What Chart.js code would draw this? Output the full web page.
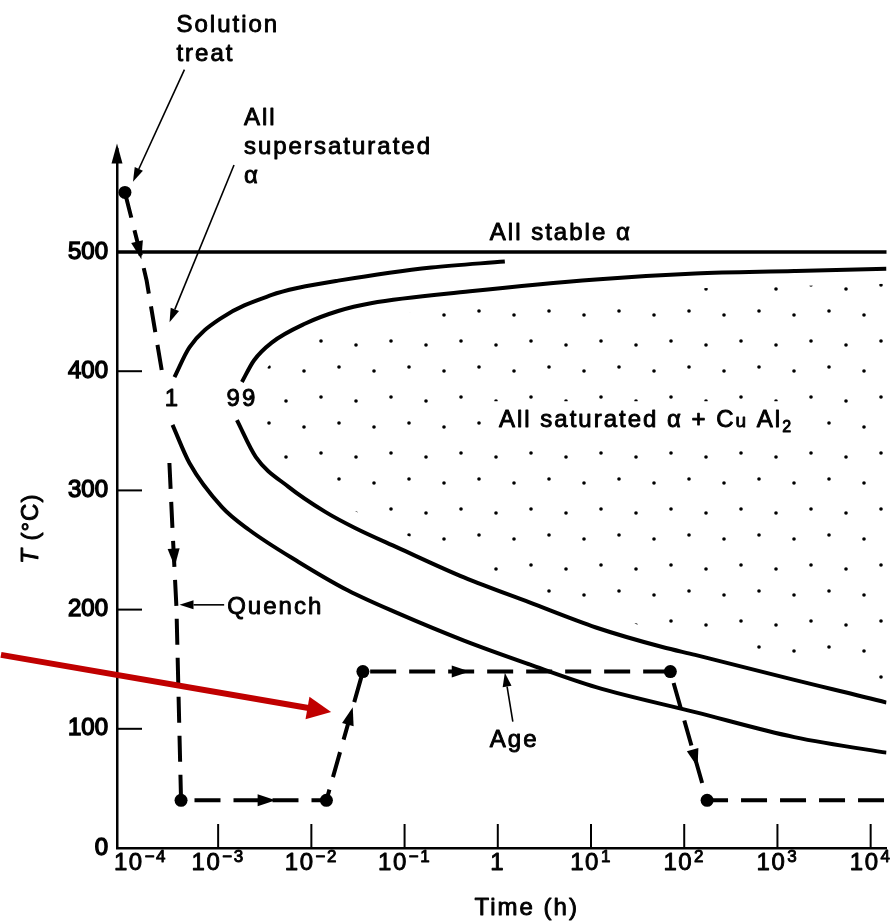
<!DOCTYPE html>
<html>
<head>
<meta charset="utf-8">
<script src="https://cdn.jsdelivr.net/npm/chart.js@4.4.1/dist/chart.umd.min.js"></script>
<style>
  html, body { margin: 0; padding: 0; background: #fff; }
  #wrap { width: 893px; height: 922px; }
</style>
</head>
<body>
<div id="wrap"><canvas id="ttt"></canvas></div>
<script>
// Al-Cu age hardening: time (h, log axis) against temperature (deg C)
const xTicks = [1e-4, 1e-3, 1e-2, 1e-1, 1, 1e1, 1e2, 1e3, 1e4];
const xTickExp = ['\u22124', '\u22123', '\u22122', '\u22121', '', '1', '2', '3', '4'];
const yTicks = [0, 100, 200, 300, 400, 500];

const stableTime = [1e-5, 1e5];
const stableTemp = [500, 500];

// 1 % transformed curve (two branches, gap at the nose for the label)
const c1UpperTime = [3.40e-4, 4.92e-4, 1.10e-3, 3.76e-3, 7.28e-3, 1.94e-2, 0.194, 1.19];
const c1UpperTemp = [395, 420, 445, 464, 470, 476, 487, 492];
const c1LowerTime = [3.24e-4, 4.92e-4, 1.10e-3, 2.14e-3, 7.28e-3, 2.48e-2, 8.43e-2, 0.434, 2.19, 11.3, 131, 1517, 14791, 40000];
const c1LowerTemp = [355, 323, 286, 267, 240, 216, 197, 174, 154, 135, 114, 93, 80, 75];

// 99 % transformed curve
const c99UpperTime = [1.80e-3, 2.42e-3, 3.76e-3, 8.63e-3, 1.94e-2, 4.35e-2, 0.504, 11.3, 131, 1517, 14791, 40000];
const c99UpperTemp = [391, 409, 424, 440, 450.5, 457, 467, 477, 482, 484, 486, 487];
const c99LowerTime = [1.59e-3, 2.54e-3, 5.69e-3, 1.41e-2, 2.94e-2, 8.43e-2, 0.434, 2.19, 11.3, 58.3, 131, 1517, 14791, 40000];
const c99LowerTemp = [359, 328, 303, 282, 268.5, 252, 227, 206, 185, 168.6, 162, 141, 122, 113];

// heat treatment path: solution treat -> quench -> hold -> age -> cool
// (null leaves the break where the "1" label sits)
const pathTime = [1.0e-4, 1.45e-4, 1.71e-4, 2.48e-4, 2.7e-4, 3.0e-4, 3.24e-4, 3.57e-4, 4.0e-4, 1.45e-2, 3.57e-2, 71, 176, 1e5];
const pathTemp = [550, 500, 476, 401, null, 323, 267, 202, 40, 40, 148, 148, 40, 40];
const cornerTime = [1.0e-4, 4.0e-4, 1.45e-2, 3.57e-2, 71, 176];
const cornerTemp = [550, 40, 40, 148, 148, 40];

// notes, placed in axis units [time, temp]
const pathArrows = [
  [[1.0e-4, 550], [1.5e-4, 494]],
  [[3.24e-4, 267], [3.42e-4, 236]],
  [[1.0e-3, 40], [4.14e-3, 40]],
  [[1.45e-2, 40], [2.78e-2, 118]],
  [[0.1, 148], [0.5, 148]],
  [[71, 148], [139, 68]]
];
const pointers = [
  [[4.35e-4, 653], [1.22e-4, 559]],
  [[1.48e-3, 573], [3.01e-4, 441]],
  [[1.16e-3, 204], [3.85e-4, 204]],
  [[1.45, 106], [1.19, 147]]
];
const redPointer = [[4.68e-6, 162], [1.63e-2, 114]];
const notes = [
  { at: [3.57e-4, 684.6], lines: ['Solution', 'treat'] },
  { at: [1.89e-3, 606.5], lines: ['All', 'supersaturated', '\u03b1'] },
  { at: [0.822, 510], lines: ['All stable \u03b1'] },
  { at: [1.25e-3, 196], lines: ['Quench'] },
  { at: [0.822, 84.7], lines: ['Age'] }
];
const curveTags = [
  { at: [3.24e-4, 376], text: '1' },
  { at: [1.80e-3, 376], text: '99' }
];
const regionNote = { at: [1.03, 353], parts: [['All saturated \u03b1 + C', 24, 0], ['u', 19, 0], [' Al', 24, 0], ['2', 16, 5]] };
const xTitle = { at: 2.04, text: 'Time (h)' };

const ink = '#000';
const FONT = '"Liberation Sans", Arial, Helvetica, sans-serif';

const pts = (ts, cs) => ts.map((t, i) => ({ x: t, y: cs[i] }));

function dotPattern() {
  const c = document.createElement('canvas');
  c.width = 70; c.height = 56;
  const g = c.getContext('2d');
  g.fillStyle = ink;
  [[6, 9], [41, 5], [24, 35], [59, 31]].forEach(p => {
    g.beginPath(); g.arc(p[0], p[1], 1.8, 0, Math.PI * 2); g.fill();
  });
  return g.createPattern(c, 'repeat');
}

function head(ctx, x0, y0, x1, y1, len, half) {
  const a = Math.atan2(y1 - y0, x1 - x0);
  const bx = x1 - len * Math.cos(a), by = y1 - len * Math.sin(a);
  ctx.beginPath();
  ctx.moveTo(x1, y1);
  ctx.lineTo(bx + half * Math.sin(a), by - half * Math.cos(a));
  ctx.lineTo(bx - half * Math.sin(a), by + half * Math.cos(a));
  ctx.closePath();
  ctx.fill();
  return [bx, by];
}

// filled text with a hairline outline, the scan is a bit heavier than the regular face
function ink_text(ctx, s, x, y) {
  ctx.fillText(s, x, y);
  ctx.strokeText(s, x, y);
}

const annotate = {
  id: 'annotate',
  afterDatasetsDraw(chart) {
    const { ctx, chartArea: area, scales: { x, y } } = chart;
    const P = p => [x.getPixelForValue(p[0]), y.getPixelForValue(p[1])];
    ctx.save();
    ctx.fillStyle = ink;
    ctx.strokeStyle = ink;

    // inward tick marks
    ctx.lineWidth = 2;
    yTicks.forEach(v => {
      if (v === 0) return;
      const yy = y.getPixelForValue(v);
      ctx.beginPath(); ctx.moveTo(area.left, yy); ctx.lineTo(area.left + 25, yy); ctx.stroke();
    });
    xTicks.forEach(v => {
      const xx = x.getPixelForValue(v);
      if (xx - area.left < 15) return;
      ctx.beginPath(); ctx.moveTo(xx, area.bottom); ctx.lineTo(xx, area.bottom - 24); ctx.stroke();
    });

    // arrow on top of the T axis
    head(ctx, area.left, area.top + 20, area.left, area.top - 6, 20, 5.5);

    ctx.lineWidth = 0.9;
    ctx.lineJoin = 'round';

    // x tick labels with powers of ten
    ctx.letterSpacing = '1.5px';
    ctx.textBaseline = 'alphabetic';
    ctx.textAlign = 'left';
    xTicks.forEach((v, i) => {
      const exp = xTickExp[i];
      const main = exp === '' ? '1' : '10';
      ctx.font = '24px ' + FONT;
      const w1 = ctx.measureText(main).width;
      ctx.font = '17px ' + FONT;
      const w2 = exp ? ctx.measureText(exp).width + 1 : 0;
      let left = x.getPixelForValue(v) - (w1 + w2) / 2;
      if (left < area.left - 3) left = area.left - 3;
      ctx.font = '24px ' + FONT;
      ink_text(ctx, main, left, area.bottom + 22);
      if (exp) {
        ctx.font = '17px ' + FONT;
        ink_text(ctx, exp, left + w1 + 1, area.bottom + 14);
      }
    });

    // axis titles
    ctx.letterSpacing = '2px';
    ctx.font = '24px ' + FONT;
    ctx.textAlign = 'center';
    ink_text(ctx, xTitle.text, x.getPixelForValue(xTitle.at), area.bottom + 67);
    ctx.save();
    ctx.translate(area.left - 79, (area.top + area.bottom) / 2 + 30);
    ctx.rotate(-Math.PI / 2);
    ctx.letterSpacing = '1px';
    ctx.textAlign = 'left';
    ctx.font = 'italic 24px ' + FONT;
    const tw = ctx.measureText('T ').width;
    ctx.font = '24px ' + FONT;
    const rest = '(\u00b0C)';
    const total = tw + ctx.measureText(rest).width;
    ctx.font = 'italic 24px ' + FONT;
    ink_text(ctx, 'T ', -total / 2, 0);
    ctx.font = '24px ' + FONT;
    ink_text(ctx, rest, -total / 2 + tw, 0);
    ctx.restore();

    // text notes
    ctx.letterSpacing = '2px';
    ctx.font = '24px ' + FONT;
    ctx.textAlign = 'left';
    notes.forEach(n => {
      const [px, py] = P(n.at);
      n.lines.forEach((s, k) => ink_text(ctx, s, px, py + k * 29));
    });
    ctx.textAlign = 'center';
    ctx.textBaseline = 'middle';
    curveTags.forEach(n => {
      const [px, py] = P(n.at);
      ink_text(ctx, n.text, px, py);
    });

    // region label on a clear patch
    ctx.textAlign = 'left';
    ctx.textBaseline = 'alphabetic';
    let [rx, ry] = P(regionNote.at);
    let width = 0;
    regionNote.parts.forEach(p => { ctx.font = p[1] + 'px ' + FONT; width += ctx.measureText(p[0]).width; });
    ctx.fillStyle = '#fff';
    ctx.fillRect(rx - 8, ry - 26, width + 16, 36);
    ctx.fillStyle = ink;
    regionNote.parts.forEach(p => {
      ctx.font = p[1] + 'px ' + FONT;
      ink_text(ctx, p[0], rx, ry + p[2]);
      rx += ctx.measureText(p[0]).width;
    });

    // arrowheads along the treatment path
    pathArrows.forEach(a => {
      const [x0, y0] = P(a[0]);
      const [x1, y1] = P(a[1]);
      head(ctx, x0, y0, x1, y1, 18, 6);
    });

    // thin pointers from the labels
    ctx.lineWidth = 1.6;
    pointers.forEach(a => {
      const [x0, y0] = P(a[0]);
      const [x1, y1] = P(a[1]);
      const [bx, by] = head(ctx, x0, y0, x1, y1, 14, 4.5);
      ctx.beginPath(); ctx.moveTo(x0, y0); ctx.lineTo(bx, by); ctx.stroke();
    });

    // red pointer
    ctx.fillStyle = '#c00000';
    ctx.strokeStyle = '#c00000';
    ctx.lineWidth = 6;
    const [r0x, r0y] = P(redPointer[0]);
    const [r1x, r1y] = P(redPointer[1]);
    const [rbx, rby] = head(ctx, r0x, r0y, r1x, r1y, 24, 11.5);
    ctx.beginPath(); ctx.moveTo(r0x, r0y); ctx.lineTo(rbx + 1, rby); ctx.stroke();

    ctx.restore();
  }
};

const curve = { borderColor: ink, borderWidth: 4, cubicInterpolationMode: 'monotone', fill: false, order: 0 };
// wide white band under the 99 % curve keeps the stipple off the line
const clearBand = { borderColor: '#fff', borderWidth: 30, cubicInterpolationMode: 'monotone', fill: false, order: 5 };

const region99 = pts(
  c99UpperTime.slice().reverse().concat(c99LowerTime),
  c99UpperTemp.slice().reverse().concat(c99LowerTemp)
);

new Chart(document.getElementById('ttt'), {
  type: 'line',
  data: {
    datasets: [
      { label: 'saturated region', data: region99, fill: 'shape', backgroundColor: dotPattern(),
        borderColor: 'rgba(0,0,0,0)', borderWidth: 0, tension: 0, order: 10 },
      Object.assign({ label: 'band upper', data: pts(c99UpperTime, c99UpperTemp) }, clearBand),
      Object.assign({ label: 'band lower', data: pts(c99LowerTime, c99LowerTemp) }, clearBand),
      { label: 'stable', data: pts(stableTime, stableTemp), borderColor: ink, borderWidth: 3.5, tension: 0, order: 0 },
      Object.assign({ label: '1 % upper', data: pts(c1UpperTime, c1UpperTemp) }, curve),
      Object.assign({ label: '1 % lower', data: pts(c1LowerTime, c1LowerTemp) }, curve),
      Object.assign({ label: '99 % upper', data: pts(c99UpperTime, c99UpperTemp) }, curve),
      Object.assign({ label: '99 % lower', data: pts(c99LowerTime, c99LowerTemp) }, curve),
      { label: 'treatment', data: pts(pathTime, pathTemp), borderColor: ink, borderWidth: 4,
        borderDash: [26, 13], tension: 0, spanGaps: false, order: 0 },
      { label: 'stages', data: pts(cornerTime, cornerTemp), showLine: false, pointRadius: 6.5,
        pointBackgroundColor: ink, pointBorderWidth: 0, order: -1 }
    ]
  },
  options: {
    responsive: true,
    maintainAspectRatio: false,
    animation: false,
    devicePixelRatio: 1,
    events: [],
    layout: { padding: { top: 149.5, right: 0, bottom: 0, left: 0 } },
    elements: {
      point: { radius: 0, hoverRadius: 0 },
      line: { capBezierPoints: false }
    },
    plugins: { legend: { display: false }, tooltip: { enabled: false } },
    scales: {
      x: {
        type: 'logarithmic',
        min: 8.222e-5,
        max: 14791,
        bounds: 'data',
        afterBuildTicks: s => { s.ticks = xTicks.map(v => ({ value: v })); },
        afterFit: s => { s.height = 74; },
        ticks: { display: false },
        grid: { display: false, drawTicks: false },
        border: { display: true, color: ink, width: 2.5 }
      },
      y: {
        type: 'linear',
        min: 0,
        max: 586,
        bounds: 'data',
        afterBuildTicks: s => { s.ticks = yTicks.map(v => ({ value: v })); },
        afterFit: s => { s.width = 117; },
        ticks: { color: ink, padding: 9, font: { family: FONT, size: 24 },
                 textStrokeColor: ink, textStrokeWidth: 1.4 },
        grid: { display: false, drawTicks: false },
        border: { display: true, color: ink, width: 2.5 }
      }
    }
  },
  plugins: [annotate]
});
</script>
</body>
</html>
